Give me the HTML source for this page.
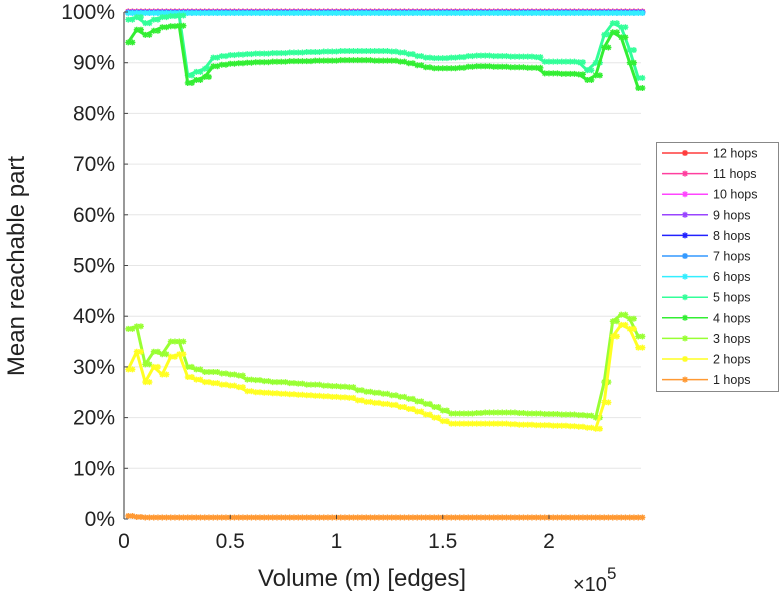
<!DOCTYPE html>
<html><head><meta charset="utf-8"><style>
body{margin:0;background:#fff;}
svg{display:block;font-family:"Liberation Sans",sans-serif;}
</style></head><body>
<svg id="chart" width="781" height="600" viewBox="0 0 781 600" xmlns="http://www.w3.org/2000/svg">
<g id="grid"></g>
<g id="series"></g>
<g id="axes"></g>
<text transform="translate(24,266) rotate(-90)" text-anchor="middle" font-size="24" fill="#222">Mean reachable part</text>
<text x="362" y="586" text-anchor="middle" font-size="24" fill="#222">Volume (m) [edges]</text>
<text x="573" y="591" font-size="20" fill="#222">×10<tspan dy="-12" font-size="17">5</tspan></text>
<g id="legend"></g>
</svg>
<script>
const xTicks=[0,0.5,1,1.5,2];
const xTickLabels=["0","0.5","1","1.5","2"];
const yTicks=[0,10,20,30,40,50,60,70,80,90,100];
const xs=[0.02,0.06,0.10,0.14,0.18,0.22,0.26,0.30,0.34,0.38,0.42,0.46,0.50,0.54,0.58,0.62,0.66,0.70,0.74,0.78,0.82,0.86,0.90,0.94,0.98,1.02,1.06,1.10,1.14,1.18,1.22,1.26,1.30,1.34,1.38,1.42,1.46,1.50,1.54,1.58,1.62,1.66,1.70,1.74,1.78,1.82,1.86,1.90,1.94,1.98,2.02,2.06,2.10,2.14,2.18,2.22,2.26,2.30,2.34,2.38,2.42];
const hop1=[0.6,0.4,0.3,0.3,0.3,0.3,0.3,0.3,0.3,0.3,0.3,0.3,0.3,0.3,0.3,0.3,0.3,0.3,0.3,0.3,0.3,0.3,0.3,0.3,0.3,0.3,0.3,0.3,0.3,0.3,0.3,0.3,0.3,0.3,0.3,0.3,0.3,0.3,0.3,0.3,0.3,0.3,0.3,0.3,0.3,0.3,0.3,0.3,0.3,0.3,0.3,0.3,0.3,0.3,0.3,0.3,0.3,0.3,0.3,0.3,0.3];
const hop2=[29.5,33,27,30,28.5,32,32.5,28,27.5,27,26.8,26.5,26.3,26,25.2,25,24.9,24.8,24.7,24.6,24.5,24.4,24.3,24.2,24.1,24,23.9,23.4,23.1,22.9,22.7,22.5,22.1,21.7,21.2,20.6,20,19.3,18.8,18.8,18.8,18.8,18.8,18.8,18.8,18.7,18.6,18.6,18.5,18.5,18.4,18.4,18.3,18.2,18,17.8,23,36,38.3,37.5,33.8];
const hop3=[37.5,38,30.5,33,32.5,35,35,30,29.5,29,29,28.7,28.5,28.3,27.5,27.4,27.2,27,27,26.8,26.7,26.5,26.5,26.3,26.2,26.1,26,25.4,25.1,24.9,24.7,24.4,24.1,23.7,23.2,22.7,22.1,21.4,20.8,20.8,20.8,20.9,21,21,21,21,20.9,20.8,20.8,20.7,20.7,20.6,20.6,20.5,20.4,20,27,39,40.3,39.5,36];
const hop4=[94,96.5,95.5,96.3,97,97.2,97.3,86,86.6,87.2,89.3,89.6,89.8,89.9,90,90.1,90.1,90.2,90.2,90.3,90.3,90.3,90.4,90.4,90.4,90.5,90.5,90.5,90.5,90.4,90.4,90.4,90.2,89.9,89.5,89.1,88.9,88.9,88.9,89,89.2,89.3,89.3,89.2,89.2,89.1,89.1,89,89,87.9,87.9,87.8,87.8,87.7,86.6,87.5,93,96,95,90,85];
const hop5=[98.5,99,97.8,98.5,99,99.2,99.3,87.5,88.2,88.8,91,91.3,91.5,91.6,91.7,91.8,91.8,91.9,91.9,92,92,92.1,92.1,92.2,92.2,92.3,92.3,92.3,92.3,92.3,92.3,92.2,92,91.7,91.3,91,90.9,90.9,91,91.1,91.3,91.4,91.4,91.3,91.3,91.2,91.2,91.2,91.1,90.2,90.2,90.2,90.2,90.1,88.5,90,95.5,97.8,97,92.5,87];
const hopTop=[99.8,99.8,99.8,99.8,99.8,99.8,99.8,99.8,99.8,99.8,99.8,99.8,99.8,99.8,99.8,99.8,99.8,99.8,99.8,99.8,99.8,99.8,99.8,99.8,99.8,99.8,99.8,99.8,99.8,99.8,99.8,99.8,99.8,99.8,99.8,99.8,99.8,99.8,99.8,99.8,99.8,99.8,99.8,99.8,99.8,99.8,99.8,99.8,99.8,99.8,99.8,99.8,99.8,99.8,99.8,99.8,99.8,99.8,99.8,99.8,99.8];
const seriesNames=["12 hops","11 hops","10 hops","9 hops","8 hops","7 hops","6 hops","5 hops","4 hops","3 hops","2 hops","1 hops"];
const seriesColors=["#ff3b3b","#ff3f9f","#ff44ff","#9944ff","#2222ff","#3399ff","#33eeff","#33ff99","#33ee33","#99ff33","#ffff22","#ff9933"];
const seriesData=[hopTop,hopTop,hopTop,hopTop,hopTop,hopTop,hopTop,hop5,hop4,hop3,hop2,hop1];

const NS="http://www.w3.org/2000/svg";
const X0=124,X1=641,Y0=519,Y1=12,XMAX=2.433;
function sx(v){return X0+v/XMAX*(X1-X0);}
function sy(v){return Y0-v/100*(Y0-Y1);}
function mk(tag,attrs,parent){const e=document.createElementNS(NS,tag);for(const k in attrs)e.setAttribute(k,attrs[k]);parent.appendChild(e);return e;}
const grid=document.getElementById('grid'),axes=document.getElementById('axes'),sg=document.getElementById('series'),lg=document.getElementById('legend');
yTicks.forEach(t=>{
  const l=mk('line',{x1:X0,x2:X1,y1:sy(t),y2:sy(t),stroke:'#e6e6e6','stroke-width':1},grid);
  
  
  const tk=mk('line',{x1:X0,x2:X0+4,y1:sy(t),y2:sy(t),stroke:'#444','stroke-width':1},axes);
  
  
  const tx=mk('text',{x:X0-9,y:sy(t)+7,'text-anchor':'end','font-size':21,fill:'#222'},axes);
  tx.textContent=t+'%';
  
  
});
xTicks.forEach((t,i)=>{
  const tk=mk('line',{x1:sx(t),x2:sx(t),y1:Y0,y2:Y0-4,stroke:'#444','stroke-width':1},axes);
  
  
  const tx=mk('text',{x:sx(t),y:Y0+29,'text-anchor':'middle','font-size':21,fill:'#222'},axes);
  tx.textContent=xTickLabels[i];
  
  
});
const ax=mk('line',{x1:X0,x2:X0,y1:Y1,y2:Y0,stroke:'#555','stroke-width':1.2},axes);


function star(g,x,y,c){
  mk('path',{d:`M${x-3} ${y}H${x+3}M${x} ${y-3}V${y+3}M${x-2.2} ${y-2.2}L${x+2.2} ${y+2.2}M${x-2.2} ${y+2.2}L${x+2.2} ${y-2.2}`,stroke:c,'stroke-width':1.4,fill:'none'},g);
}
seriesData.forEach((d,i)=>{
  const g=mk('g',{},sg);
  
  
  const off=i<7?(i-6)*0.25:0;
  const pts=xs.map((x,j)=>sx(x).toFixed(1)+','+(sy(d[j])+off).toFixed(1)).join(' ');
  mk('polyline',{points:pts,fill:'none',stroke:seriesColors[i],'stroke-width':3,'stroke-linejoin':'round'},g);
  xs.forEach((x,j)=>{star(g,sx(x),sy(d[j])+off,seriesColors[i]);star(g,sx(x)+4.2,sy(d[j])+off,seriesColors[i]);});
});
const box=mk('rect',{x:656.5,y:142.5,width:122,height:249,fill:'#fff',stroke:'#888','stroke-width':1},lg);


seriesNames.forEach((n,i)=>{
  const y=153+i*20.6;
  const g=mk('g',{},lg);
  
  
  mk('line',{x1:662,x2:708,y1:y,y2:y,stroke:seriesColors[i],'stroke-width':1.5},g);
  star(g,685,y,seriesColors[i]);
  const t=mk('text',{x:713,y:y+4.5,'font-size':12.5,fill:'#222'},g);
  t.textContent=n;
});
</script>
</body></html>
